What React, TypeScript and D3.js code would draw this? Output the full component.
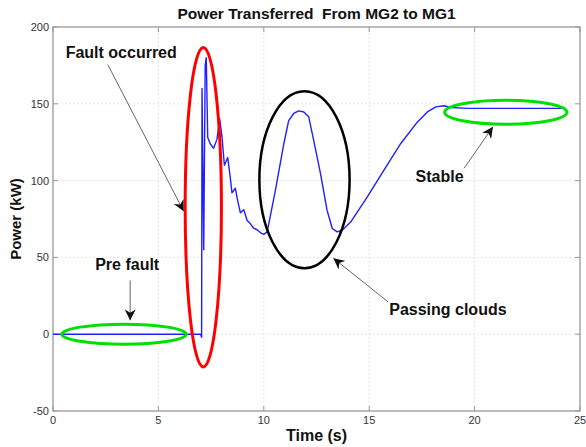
import React, { useEffect, useRef } from "react";
import * as d3 from "d3";

// time (s) and power (kW)
const times = [
  0, 7.0, 7.05, 7.07, 7.15, 7.22, 7.27, 7.34, 7.46, 7.62, 7.78, 7.91, 8.02, 8.13,
  8.29, 8.41, 8.49, 8.65, 8.76, 8.89, 9.05, 9.21, 9.36, 9.52, 9.68, 9.85, 10.0,
  10.16, 10.55, 10.95, 11.18, 11.42, 11.66, 11.9, 12.13, 12.37, 12.69, 13.0,
  13.25, 13.48, 13.72, 14.12, 14.91, 15.7, 16.49, 17.29, 17.76, 18.16, 18.55,
  18.87, 19.66, 21.5, 24.3,
];
const power = [
  0, 0, -2, 160, 55, 175, 180, 128, 124, 121, 127, 140, 128, 110,
  115, 102, 92, 95, 87, 79, 81, 74, 72, 69, 68, 66, 65,
  66.6, 93.7, 124, 139, 143.7, 145.4, 144.7, 141.5, 126, 104.6, 80.7,
  68.8, 66.6, 67.7, 73, 89.4, 106.8, 124, 138.2, 144.7, 148, 148.7,
  147.6, 147, 147, 147,
];

const xTicks = [0, 5, 10, 15, 20, 25];
const yTicks = [-50, 0, 50, 100, 150, 200];

// annotation ellipses in data units: [cx, cy, rx, ry]
const ellipseColors = ["#00e000", "#ff0000", "#000000", "#00e000"];
const ellipseShapes = [
  [3.37, 0, 2.95, 6.5],
  [7.13, 82.7, 0.86, 104],
  [11.93, 100.6, 2.14, 57.6],
  [21.48, 144.5, 2.9, 7.8],
];

// annotation labels and arrows in data units
const labels = ["Fault occurred", "Pre fault", "Stable", "Passing clouds"];
const labelPos = [
  [0.6, 180],
  [2.0, 42],
  [17.2, 99],
  [15.95, 12.5],
];
const arrowFrom = [
  [2.6, 175.5],
  [3.66, 35],
  [19.5, 108],
  [15.9, 21],
];
const arrowTo = [
  [6.2, 80],
  [3.66, 9],
  [20.87, 135],
  [13.3, 49.5],
];

const W = 586;
const H = 447;
const FONT = "Liberation Sans, Arial, sans-serif";

const App: React.FC = () => {
  const ref = useRef<SVGSVGElement | null>(null);

  useEffect(() => {
    if (!ref.current) return;
    const svg = d3.select(ref.current);
    svg.selectAll("*").remove();

    const x = d3.scaleLinear().domain([0, 25]).range([53, 580]);
    const y = d3.scaleLinear().domain([-50, 200]).range([411, 27]);

    svg.append("rect").attr("width", W).attr("height", H).attr("fill", "#fff");

    const defs = svg.append("defs");
    defs
      .append("marker")
      .attr("id", "ah")
      .attr("viewBox", "0 0 10 10")
      .attr("refX", 10)
      .attr("refY", 5)
      .attr("markerWidth", 11)
      .attr("markerHeight", 11)
      .attr("markerUnits", "userSpaceOnUse")
      .attr("orient", "auto")
      .append("path")
      .attr("d", "M0,0 L10,5 L0,10 L3,5 Z")
      .attr("fill", "#111");

    // grid
    const grid = svg.append("g");
    grid
      .selectAll("line.gx")
      .data(xTicks.slice(1, -1))
      .enter()
      .append("line")
      .attr("x1", (d) => x(d))
      .attr("x2", (d) => x(d))
      .attr("y1", y(-50))
      .attr("y2", y(200))
      .attr("stroke", "#dedede")
      .attr("stroke-width", 0.8)
      .attr("stroke-dasharray", "2,2");
    grid
      .selectAll("line.gy")
      .data(yTicks.slice(1, -1))
      .enter()
      .append("line")
      .attr("x1", x(0))
      .attr("x2", x(25))
      .attr("y1", (d) => y(d))
      .attr("y2", (d) => y(d))
      .attr("stroke", "#dedede")
      .attr("stroke-width", 0.8)
      .attr("stroke-dasharray", "2,2");

    // ticks inside
    const tk = svg.append("g").attr("stroke", "#999").attr("stroke-width", 1);
    xTicks.forEach((t) => {
      tk.append("line").attr("x1", x(t)).attr("x2", x(t)).attr("y1", y(-50)).attr("y2", y(-50) - 5);
      tk.append("line").attr("x1", x(t)).attr("x2", x(t)).attr("y1", y(200)).attr("y2", y(200) + 5);
    });
    yTicks.forEach((t) => {
      tk.append("line").attr("x1", x(0)).attr("x2", x(0) + 5).attr("y1", y(t)).attr("y2", y(t));
      tk.append("line").attr("x1", x(25)).attr("x2", x(25) - 5).attr("y1", y(t)).attr("y2", y(t));
    });

    // frame
    svg
      .append("rect")
      .attr("x", x(0))
      .attr("y", y(200))
      .attr("width", x(25) - x(0))
      .attr("height", y(-50) - y(200))
      .attr("fill", "none")
      .attr("stroke", "#999")
      .attr("stroke-width", 1.3);

    // tick labels
    svg
      .selectAll("text.xt")
      .data(xTicks)
      .enter()
      .append("text")
      .attr("x", (d) => x(d))
      .attr("y", y(-50) + 13)
      .attr("text-anchor", "middle")
      .attr("font-family", FONT)
      .attr("font-size", 11)
      .attr("fill", "#333")
      .text((d) => d);
    svg
      .selectAll("text.yt")
      .data(yTicks)
      .enter()
      .append("text")
      .attr("x", x(0) - 4)
      .attr("y", (d) => y(d) + 4)
      .attr("text-anchor", "end")
      .attr("font-family", FONT)
      .attr("font-size", 11)
      .attr("fill", "#333")
      .text((d) => d);

    // series
    const pts: [number, number][] = times.map((t, i) => [t, power[i]]);
    const line = d3
      .line<[number, number]>()
      .x((d) => x(d[0]))
      .y((d) => y(d[1]));
    svg
      .append("path")
      .attr("d", line(pts) as string)
      .attr("fill", "none")
      .attr("stroke", "#2020ff")
      .attr("stroke-width", 1.4)
      .attr("stroke-linejoin", "round");

    // ellipses
    ellipseShapes.forEach((e, i) => {
      svg
        .append("ellipse")
        .attr("cx", x(e[0]))
        .attr("cy", y(e[1]))
        .attr("rx", x(e[2]) - x(0))
        .attr("ry", y(0) - y(e[3]))
        .attr("fill", "none")
        .attr("stroke", ellipseColors[i])
        .attr("stroke-width", i === 2 ? 2.5 : 3);
    });

    // arrows
    arrowFrom.forEach((f, i) => {
      svg
        .append("line")
        .attr("x1", x(f[0]))
        .attr("y1", y(f[1]))
        .attr("x2", x(arrowTo[i][0]))
        .attr("y2", y(arrowTo[i][1]))
        .attr("stroke", "#666")
        .attr("stroke-width", 1)
        .attr("marker-end", "url(#ah)");
    });

    // labels
    labels.forEach((l, i) => {
      svg
        .append("text")
        .attr("x", x(labelPos[i][0]))
        .attr("y", y(labelPos[i][1]))
        .attr("font-family", FONT)
        .attr("font-weight", "bold")
        .attr("font-size", 16)
        .attr("fill", "#111")
        .text(l);
    });

    // title & axis labels
    svg
      .append("text")
      .attr("x", (x(0) + x(25)) / 2)
      .attr("y", 19)
      .attr("text-anchor", "middle")
      .attr("font-family", FONT)
      .attr("font-weight", "bold")
      .attr("font-size", 15.5)
      .attr("fill", "#111")
      .attr("xml:space", "preserve")
      .style("white-space", "pre")
      .text("Power Transferred  From MG2 to MG1");
    svg
      .append("text")
      .attr("x", (x(0) + x(25)) / 2)
      .attr("y", 441)
      .attr("text-anchor", "middle")
      .attr("font-family", FONT)
      .attr("font-weight", "bold")
      .attr("font-size", 16)
      .attr("fill", "#111")
      .text("Time (s)");
    svg
      .append("text")
      .attr("transform", `translate(21,${(y(-50) + y(200)) / 2}) rotate(-90)`)
      .attr("text-anchor", "middle")
      .attr("font-family", FONT)
      .attr("font-weight", "bold")
      .attr("font-size", 15)
      .attr("fill", "#111")
      .text("Power (kW)");
  }, []);

  return (
    <svg
      ref={ref}
      width={W}
      height={H}
      style={{ position: "absolute", left: 0, top: 0, display: "block" }}
    ></svg>
  );
};

export default App;
